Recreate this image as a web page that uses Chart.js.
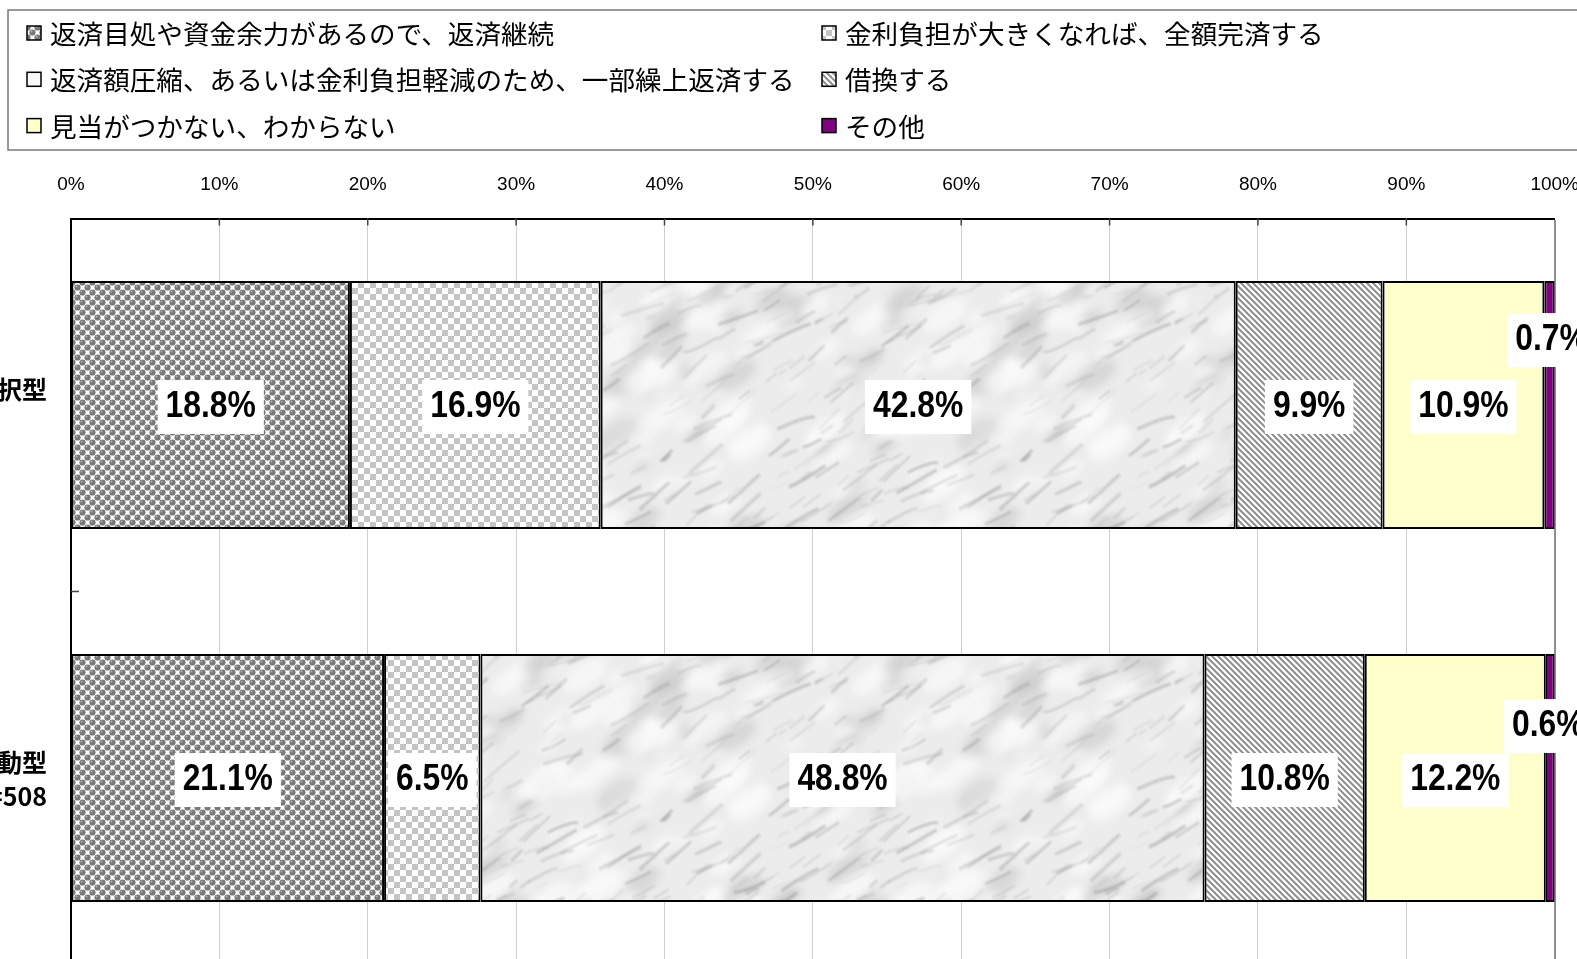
<!DOCTYPE html>
<html lang="ja">
<head>
<meta charset="utf-8">
<script src="https://cdn.jsdelivr.net/npm/chart.js@4.4.1/dist/chart.umd.min.js"></script>
<style>
  html, body { margin: 0; padding: 0; background: #fff; overflow: hidden; width: 1577px; height: 959px; }
  #caixa { position: absolute; left: -200px; top: 0; width: 1801px; height: 970px; }
</style>
</head>
<body>
<div id="caixa"><canvas id="grafico"></canvas></div>
<script>
// categorias (eixo vertical) - o rótulo da esquerda fica cortado na imagem original
const categorias = [['固定期間選択型', 'n=612'], ['変動型', 'n=508']];

const nomesSeries = [
  '返済目処や資金余力があるので、返済継続',
  '金利負担が大きくなれば、全額完済する',
  '返済額圧縮、あるいは金利負担軽減のため、一部繰上返済する',
  '借換する',
  '見当がつかない、わからない',
  'その他'
];

const continuar = [18.8, 21.1];
const quitarTudo = [16.9, 6.5];
const quitarParte = [42.8, 48.8];
const refinanciar = [9.9, 10.8];
const naoSabe = [10.9, 12.2];
const outros = [0.7, 0.6];

const ticksX = [0, 10, 20, 30, 40, 50, 60, 70, 80, 90, 100];

const canvas = document.getElementById('grafico');
const ctx = canvas.getContext('2d');

// verifica se a fonte estreita existe
function temFonte(nome) {
  const m = document.createElement('canvas').getContext('2d');
  m.font = '40px monospace';
  const a = m.measureText('10% abc').width;
  m.font = '40px "' + nome + '", monospace';
  return m.measureText('10% abc').width !== a;
}
const estreita = temFonte('Liberation Sans Narrow');
const fonteNum = estreita ? '"Liberation Sans Narrow", "Liberation Sans", sans-serif' : '"Liberation Sans", Arial, sans-serif';
const fonteJp = '"Noto Sans CJK JP", "Noto Sans", sans-serif';

// texturas
function texturaBolas() {
  const c = document.createElement('canvas');
  c.width = 10; c.height = 10;
  const g = c.getContext('2d');
  g.fillStyle = '#ffffff';
  g.fillRect(0, 0, 10, 10);
  const bola = (x, y) => {
    g.fillStyle = '#787878';
    g.beginPath(); g.arc(x, y, 3.1, 0, Math.PI * 2); g.fill();
    g.fillStyle = '#b0b0b0';
    g.beginPath(); g.arc(x - 1, y - 1.1, 1, 0, Math.PI * 2); g.fill();
  };
  [[2.5, 2.5], [7.5, 7.5], [-2.5, 7.5], [7.5, -2.5], [-2.5, -2.5], [12.5, 2.5], [2.5, 12.5]].forEach(p => bola(p[0], p[1]));
  return ctx.createPattern(c, 'repeat');
}

function texturaXadrez() {
  const c = document.createElement('canvas');
  c.width = 12; c.height = 12;
  const g = c.getContext('2d');
  g.fillStyle = '#ffffff';
  g.fillRect(0, 0, 12, 12);
  g.fillStyle = '#c4c4c4';
  g.fillRect(0, 0, 6, 6);
  g.fillRect(6, 6, 6, 6);
  return ctx.createPattern(c, 'repeat');
}

// ruído determinístico só para a textura de mármore
function hash(n) {
  const s = Math.sin(n * 12.9898 + 78.233) * 43758.5453;
  return s - Math.floor(s);
}

function texturaMarmore() {
  const t = 360;
  const c = document.createElement('canvas');
  c.width = t; c.height = t;
  const g = c.getContext('2d');
  g.fillStyle = '#ececec';
  g.fillRect(0, 0, t, t);
  const repetir = (fn) => {
    for (const dx of [-t, 0, t]) for (const dy of [-t, 0, t]) fn(dx, dy);
  };
  // manchas suaves
  g.filter = 'blur(4px)';
  for (let i = 0; i < 160; i++) {
    const x0 = hash(i) * t;
    const y0 = hash(i + 500) * t;
    const r = 4 + hash(i + 900) * 12;
    const claro = hash(i + 1300) > 0.4;
    g.fillStyle = claro ? 'rgba(250,250,250,0.75)' : 'rgba(190,190,190,0.45)';
    repetir((dx, dy) => {
      g.beginPath();
      g.ellipse(x0 + dx, y0 + dy, r * 1.7, r * 0.8, -0.6, 0, Math.PI * 2);
      g.fill();
    });
  }
  // veios
  g.filter = 'blur(1.2px)';
  for (let i = 0; i < 230; i++) {
    const x0 = hash(i + 2000) * t;
    const y0 = hash(i + 2600) * t;
    const comp = 8 + hash(i + 3100) * 40;
    const ang = -0.8 + hash(i + 3700) * 0.55;
    const tom = Math.round(110 + hash(i + 4200) * 80);
    const curva = (hash(i + 4800) - 0.5) * 12;
    g.strokeStyle = 'rgba(' + tom + ',' + tom + ',' + tom + ',' + (0.15 + hash(i + 5300) * 0.25).toFixed(2) + ')';
    g.lineWidth = 1 + hash(i + 5900) * 2.5;
    repetir((dx, dy) => {
      const xa = x0 + dx, ya = y0 + dy;
      const xb = xa + Math.cos(ang) * comp, yb = ya + Math.sin(ang) * comp;
      g.beginPath();
      g.moveTo(xa, ya);
      g.quadraticCurveTo((xa + xb) / 2 + curva, (ya + yb) / 2 - curva, xb, yb);
      g.stroke();
    });
  }
  return ctx.createPattern(c, 'repeat');
}

function texturaListras() {
  const c = document.createElement('canvas');
  c.width = 6; c.height = 6;
  const g = c.getContext('2d');
  g.fillStyle = '#ffffff';
  g.fillRect(0, 0, 6, 6);
  g.strokeStyle = '#8e8e8e';
  g.lineWidth = 2;
  for (const k of [-6, 0, 6]) {
    g.beginPath();
    g.moveTo(-2, -2 + k);
    g.lineTo(8, 8 + k);
    g.stroke();
  }
  return ctx.createPattern(c, 'repeat');
}

const fundos = [texturaBolas(), texturaXadrez(), texturaMarmore(), texturaListras(), '#ffffcc', '#800080'];
const valores = [continuar, quitarTudo, quitarParte, refinanciar, naoSabe, outros];

const conjuntos = nomesSeries.map((nome, i) => ({
  label: nome,
  data: valores[i],
  backgroundColor: fundos[i],
  borderColor: '#000000',
  borderWidth: 2,
  borderSkipped: false,
  categoryPercentage: 1,
  barPercentage: 0.665
}));
// os rótulos pequenos do "その他" ficam deslocados para cima, como no original
conjuntos[5].deslocRotulo = [[2, -67], [-2, -54]];

// legenda em caixa, duas colunas
const legendaPlugin = {
  id: 'legendaCaixa',
  afterDraw(chart) {
    const c = chart.ctx;
    const esq = 200;
    c.save();
    c.strokeStyle = '#7a7a7a';
    c.lineWidth = 1.5;
    c.strokeRect(esq + 8, 10, chart.width, 140);
    c.font = '26.6px ' + fonteJp;
    c.textBaseline = 'middle';
    chart.data.datasets.forEach((ds, i) => {
      const col = i % 2;
      const lin = Math.floor(i / 2);
      const x = esq + (col === 0 ? 27 : 822);
      const y = 33 + lin * 46.3;
      c.fillStyle = ds.backgroundColor;
      c.fillRect(x, y - 7, 14, 14);
      c.strokeStyle = '#000';
      c.lineWidth = 1.5;
      c.strokeRect(x, y - 7, 14, 14);
      c.fillStyle = '#000';
      c.fillText(ds.label, x + 23, y + 1);
    });
    c.restore();
  }
};

// rótulos das categorias (linhas centradas dentro de um bloco alinhado à direita)
const categoriasPlugin = {
  id: 'rotulosCategorias',
  afterDraw(chart) {
    const c = chart.ctx;
    const escalaY = chart.scales.y;
    c.save();
    c.font = 'bold 25px ' + fonteJp;
    c.fillStyle = '#000';
    c.textAlign = 'center';
    c.textBaseline = 'middle';
    chart.data.labels.forEach((linhas, j) => {
      const yc = escalaY.getPixelForValue(j);
      const larg = Math.max(...linhas.map(l => c.measureText(l).width));
      const xc = chart.chartArea.left - 24 - larg / 2;
      linhas.forEach((l, k) => {
        c.fillText(l, xc, yc + (k - (linhas.length - 1) / 2) * 34 + 1);
      });
    });
    c.restore();
  }
};

// marcas internas dos eixos
const marcasPlugin = {
  id: 'marcasInternas',
  afterDatasetsDraw(chart) {
    const c = chart.ctx;
    const area = chart.chartArea;
    const escalaX = chart.scales.x;
    const escalaY = chart.scales.y;
    c.save();
    c.strokeStyle = '#444';
    c.lineWidth = 1.5;
    ticksX.slice(1, -1).forEach(v => {
      const x = escalaX.getPixelForValue(v);
      c.beginPath(); c.moveTo(x, area.top); c.lineTo(x, area.top + 7); c.stroke();
    });
    for (let j = 0; j < chart.data.labels.length - 1; j++) {
      const y = (escalaY.getPixelForValue(j) + escalaY.getPixelForValue(j + 1)) / 2;
      c.beginPath(); c.moveTo(area.left, y); c.lineTo(area.left + 8, y); c.stroke();
    }
    c.restore();
  }
};

// valores dentro das barras
const rotulosPlugin = {
  id: 'rotulosValores',
  afterDatasetsDraw(chart) {
    const c = chart.ctx;
    const escala = estreita ? 1 : 0.86;
    const tam = estreita ? 38.7 : 37;
    chart.data.datasets.forEach((ds, i) => {
      const meta = chart.getDatasetMeta(i);
      meta.data.forEach((barra, j) => {
        const texto = ds.data[j].toFixed(1) + '%';
        const d = ds.deslocRotulo ? ds.deslocRotulo[j] : [0, 0];
        const cx = (barra.x + barra.base) / 2 + d[0];
        const cy = barra.y + d[1] + 2;
        c.save();
        c.font = 'bold ' + tam + 'px ' + fonteNum;
        const w = c.measureText(texto).width * escala;
        c.fillStyle = '#ffffff';
        c.fillRect(cx - w / 2 - 8, cy - 27, w + 16, 54);
        c.translate(cx, cy);
        c.scale(escala, 1);
        c.fillStyle = '#000';
        c.textAlign = 'center';
        c.textBaseline = 'middle';
        c.fillText(texto, 0, 0);
        c.restore();
      });
    });
  }
};

new Chart(canvas, {
  type: 'bar',
  data: {
    labels: categorias,
    datasets: conjuntos
  },
  options: {
    indexAxis: 'y',
    responsive: true,
    maintainAspectRatio: false,
    animation: false,
    layout: {
      padding: { top: 160, left: 0, right: 41, bottom: 5.5 }
    },
    plugins: {
      legend: { display: false },
      tooltip: { enabled: false }
    },
    scales: {
      x: {
        position: 'top',
        stacked: true,
        min: 0,
        max: 100,
        afterFit(escala) { escala.height = 58.5; },
        afterBuildTicks(escala) { escala.ticks = ticksX.map(v => ({ value: v })); },
        ticks: {
          padding: 22,
          color: '#000',
          font: { family: fonteNum, size: estreita ? 23 : 19 },
          callback: v => v + '%'
        },
        grid: {
          drawTicks: false,
          color: c => (c.tick && c.tick.value === 100 ? '#909090' : '#cfcfcf'),
          lineWidth: c => (c.tick && c.tick.value === 100 ? 2 : 1)
        },
        border: { color: '#000', width: 2 }
      },
      y: {
        stacked: true,
        afterFit(escala) { escala.width = 271; },
        ticks: { display: false },
        grid: { display: false },
        border: { color: '#000', width: 2 }
      }
    }
  },
  plugins: [legendaPlugin, categoriasPlugin, marcasPlugin, rotulosPlugin]
});
</script>
</body>
</html>
